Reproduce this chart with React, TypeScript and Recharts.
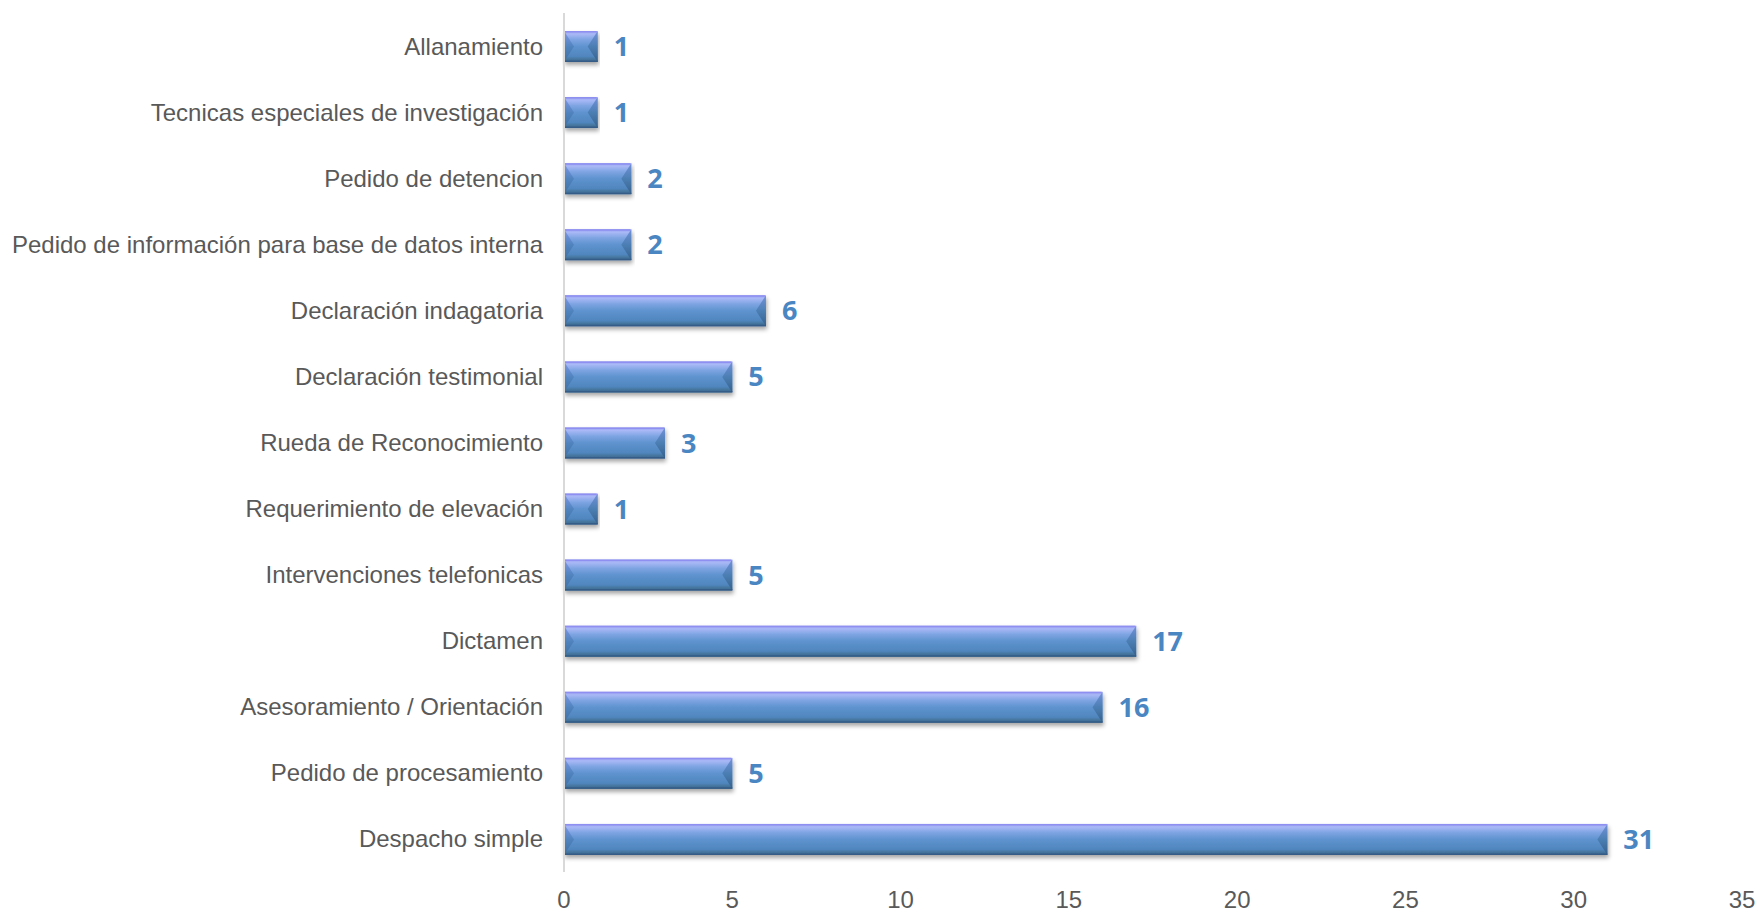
import React from 'react';
import { BarChart, Bar, XAxis, YAxis, LabelList } from 'recharts';

const categories = [
  'Allanamiento',
  'Tecnicas especiales de investigación',
  'Pedido de detencion',
  'Pedido de información para base de datos interna',
  'Declaración indagatoria',
  'Declaración testimonial',
  'Rueda de Reconocimiento',
  'Requerimiento de elevación',
  'Intervenciones telefonicas',
  'Dictamen',
  'Asesoramiento / Orientación',
  'Pedido de procesamiento',
  'Despacho simple',
];
const values = [1, 1, 2, 2, 6, 5, 3, 1, 5, 17, 16, 5, 31];
const xTicks = [0, 5, 10, 15, 20, 25, 30, 35];

const data = categories.map((name, i) => ({ name, value: values[i] }));

const BevelBar = (props: any) => {
  const { x, y, width, height } = props;
  if (!width || width <= 0) return null;
  const b = Math.min(10, width / 2);
  const h = height;
  return (
    <g filter="url(#barShadow)">
      <rect x={x} y={y} width={width} height={h} fill="url(#barBody)" />
      <polygon
        points={`${x},${y} ${x + b},${y + h / 2} ${x},${y + h}`}
        fill="url(#leftBevel)"
      />
      <polygon
        points={`${x + width},${y} ${x + width - b},${y + h / 2} ${x + width},${y + h}`}
        fill="url(#rightBevel)"
      />
      <line x1={x + 1} y1={y + 0.75} x2={x + width - 1} y2={y + 0.75} stroke="#8e8ff0" strokeWidth={1.5} />
      <line x1={x} y1={y + h - 0.75} x2={x + width} y2={y + h - 0.75} stroke="#355c86" strokeWidth={1.5} />
    </g>
  );
};

export default function App() {
  return (
    <div style={{ position: 'absolute', left: 0, top: 0, width: 1757, height: 913, background: '#fff' }}>
      <BarChart
        width={1757}
        height={913}
        data={data}
        layout="vertical"
        margin={{ top: 13, right: 15, left: 0, bottom: 0 }}
        barSize={31}
      >
        <defs>
          <linearGradient id="barBody" x1="0" y1="0" x2="0" y2="1">
            <stop offset="0" stopColor="#9aa0f2" />
            <stop offset="0.1" stopColor="#a9b8f6" />
            <stop offset="0.28" stopColor="#7ea4e2" />
            <stop offset="0.5" stopColor="#5e93cf" />
            <stop offset="0.82" stopColor="#5086be" />
            <stop offset="0.9" stopColor="#46779f" />
            <stop offset="1" stopColor="#3a6590" />
          </linearGradient>
          <linearGradient id="leftBevel" x1="0" y1="0" x2="0" y2="1">
            <stop offset="0" stopColor="#7f95e6" stopOpacity={0.95} />
            <stop offset="0.5" stopColor="#4f82bd" stopOpacity={0.9} />
            <stop offset="1" stopColor="#3f6e9f" stopOpacity={0.95} />
          </linearGradient>
          <linearGradient id="rightBevel" x1="0" y1="0" x2="0" y2="1">
            <stop offset="0" stopColor="#6f8fd8" stopOpacity={0.95} />
            <stop offset="0.5" stopColor="#4a7cb0" stopOpacity={0.9} />
            <stop offset="1" stopColor="#355f8a" stopOpacity={0.95} />
          </linearGradient>
          <filter id="barShadow" x="-5%" y="-20%" width="110%" height="160%">
            <feDropShadow dx="1" dy="3" stdDeviation="2" floodColor="#000" floodOpacity="0.35" />
          </filter>
        </defs>
        <XAxis
          type="number"
          domain={[0, 35]}
          ticks={xTicks}
          interval={0}
          axisLine={false}
          tickLine={false}
          tickMargin={13}
          height={41}
          tick={{ fill: '#595959', fontSize: 24, fontFamily: '"Liberation Sans", Arial, sans-serif' }}
        />
        <YAxis
          type="category"
          dataKey="name"
          width={564}
          interval={0}
          axisLine={{ stroke: '#d9d9d9', strokeWidth: 2 }}
          tickLine={false}
          tickMargin={15}
          tick={{ fill: '#595959', fontSize: 24, fontFamily: '"Liberation Sans", Arial, sans-serif' }}
        />
        <Bar dataKey="value" shape={<BevelBar />} isAnimationActive={false}>
          <LabelList
            dataKey="value"
            position="right"
            offset={16}
            fill="#4a86c2"
            style={{ fontSize: 27, fontWeight: 700, fontFamily: '"Open Sans", sans-serif' }}
          />
        </Bar>
      </BarChart>
    </div>
  );
}
